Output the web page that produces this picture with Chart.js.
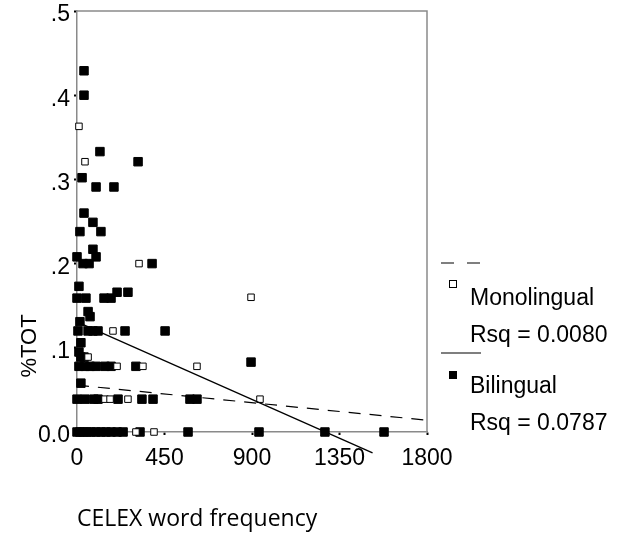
<!DOCTYPE html>
<html lang="en">
<head>
<meta charset="UTF-8">
<title>%TOT vs CELEX word frequency</title>
<script src="https://cdn.jsdelivr.net/npm/chart.js"></script>
<style>
  html, body { margin: 0; padding: 0; background: #fff; }
  #wrap { position: relative; width: 621px; height: 533px; }
</style>
</head>
<body>
<div id="wrap">
  <canvas id="myChart" width="621" height="533"></canvas>
</div>
<script>
  // monolingual (open squares)
  const monoX = [10, 41, 319, 895, 185, 57, 206, 339, 617, 144, 170, 262, 941, 303, 396];
  const monoY = [0.363, 0.321, 0.200, 0.160, 0.120, 0.089, 0.078, 0.078, 0.078, 0.039, 0.039, 0.039, 0.039, 0, 0];

  // bilingual (filled squares)
  const biX = [36, 36, 118, 314, 26, 98, 190, 36, 82, 15, 123, 82, 0, 98, 31, 62, 386,
    10, 0, 46, 139, 175, 206, 262, 57, 67, 15, 5, 57, 82, 108, 247, 453,
    20, 10, 20, 36, 895,
    10, 41, 67, 98, 144, 175, 303,
    20,
    0, 41, 87, 108, 211, 334, 391, 581, 617,
    0, 15, 31, 51, 72, 98, 123, 149, 175, 206, 237, 324, 571, 936, 1275, 1579];
  const biY = [0.429, 0.400, 0.333, 0.321, 0.302, 0.291, 0.291, 0.260, 0.249, 0.238, 0.238, 0.217, 0.208, 0.208, 0.200, 0.200, 0.200,
    0.173, 0.159, 0.159, 0.159, 0.159, 0.166, 0.166, 0.143, 0.137, 0.131, 0.120, 0.120, 0.120, 0.120, 0.120, 0.120,
    0.106, 0.095, 0.089, 0.089, 0.083,
    0.078, 0.078, 0.078, 0.078, 0.078, 0.078, 0.078,
    0.058,
    0.039, 0.039, 0.039, 0.039, 0.039, 0.039, 0.039, 0.039, 0.039,
    0, 0, 0, 0, 0, 0, 0, 0, 0, 0, 0, 0, 0, 0, 0, 0];

  // fit lines (end points)
  const monoFitX = [0, 1800];
  const monoFitY = [0.0556, 0.0140];
  const biFitX = [0, 1520];
  const biFitY = [0.1309, -0.0249];

  const xTickLabels = ['0', '450', '900', '1350', '1800'];
  const yTickLabels = ['0.0', '.1', '.2', '.3', '.4', '.5'];
  const legendLines = ['Monolingual', 'Rsq = 0.0080', 'Bilingual', 'Rsq = 0.0787'];

  function pts(xs, ys) {
    return xs.map(function (x, i) { return { x: x, y: ys[i] }; });
  }

  // frame, y title and legend
  const extras = {
    id: 'extras',
    beforeDatasetsDraw(chart) {
      const a = chart.chartArea;
      const ctx = chart.ctx;
      ctx.save();
      ctx.strokeStyle = '#8a8a8a';
      ctx.lineWidth = 1.5;
      ctx.beginPath();
      ctx.moveTo(a.left, a.top);
      ctx.lineTo(a.right, a.top);
      ctx.lineTo(a.right, a.bottom);
      ctx.stroke();
      ctx.restore();
    },
    afterDraw(chart) {
      const a = chart.chartArea;
      const ctx = chart.ctx;
      ctx.save();
      // y title
      ctx.fillStyle = '#000';
      ctx.font = '22px "Liberation Sans", Arial, sans-serif';
      ctx.translate(30, 346);
      ctx.rotate(-Math.PI / 2);
      ctx.textAlign = 'center';
      ctx.textBaseline = 'middle';
      ctx.fillText('%TOT', 0, 0);
      ctx.restore();

      // legend
      const lx = a.right + 14;
      ctx.save();
      ctx.strokeStyle = '#000';
      ctx.lineWidth = 1.2;
      ctx.setLineDash([13, 13]);
      ctx.beginPath();
      ctx.moveTo(lx, 263);
      ctx.lineTo(lx + 40, 263);
      ctx.stroke();
      ctx.setLineDash([]);
      ctx.beginPath();
      ctx.moveTo(lx, 353);
      ctx.lineTo(lx + 40, 353);
      ctx.stroke();
      ctx.lineWidth = 1;
      ctx.strokeRect(lx + 8.5, 280.5, 7, 7);
      ctx.fillStyle = '#000';
      ctx.fillRect(lx + 8, 371, 8, 8);
      ctx.font = '23px "Liberation Sans", Arial, sans-serif';
      ctx.textAlign = 'left';
      ctx.textBaseline = 'alphabetic';
      ctx.fillText(legendLines[0], lx + 29, 305);
      ctx.fillText(legendLines[1], lx + 29, 342);
      ctx.fillText(legendLines[2], lx + 29, 393);
      ctx.fillText(legendLines[3], lx + 29, 430);
      ctx.restore();
    }
  };

  const tickFont = { family: '"Liberation Sans", Arial, sans-serif', size: 23 };

  const config = {
    type: 'scatter',
    data: {
      datasets: [
        {
          label: 'Bilingual',
          data: pts(biX, biY),
          pointStyle: 'rect',
          pointRadius: 6,
          backgroundColor: '#000',
          borderColor: '#000',
          borderWidth: 1,
          clip: false,
          order: 3
        },
        {
          label: 'Monolingual',
          data: pts(monoX, monoY),
          pointStyle: 'rect',
          pointRadius: 4.6,
          backgroundColor: '#fff',
          borderColor: '#000',
          borderWidth: 1,
          clip: false,
          order: 2
        },
        {
          label: 'Monolingual fit',
          data: pts(monoFitX, monoFitY),
          showLine: true,
          pointRadius: 0,
          borderColor: '#000',
          borderWidth: 1.2,
          borderDash: [12, 9],
          clip: false,
          order: 1
        },
        {
          label: 'Bilingual fit',
          data: pts(biFitX, biFitY),
          showLine: true,
          pointRadius: 0,
          borderColor: '#000',
          borderWidth: 1.3,
          clip: false,
          order: 0
        }
      ]
    },
    options: {
      responsive: false,
      animation: false,
      layout: { padding: { left: 0, top: 11, right: 194, bottom: 0 } },
      plugins: {
        legend: { display: false },
        tooltip: { enabled: false }
      },
      scales: {
        x: {
          type: 'linear',
          min: 0,
          max: 1800,
          afterFit: function (scale) {
            scale.height = 101;
            scale.paddingLeft = 0;
            scale.paddingRight = 0;
          },
          ticks: {
            stepSize: 450,
            color: '#000',
            font: tickFont,
            padding: 10,
            maxRotation: 0,
            callback: function (v, i) { return xTickLabels[i]; }
          },
          grid: { drawOnChartArea: false, tickLength: 3, tickWidth: 2, tickColor: '#000' },
          border: { color: '#8a8a8a', width: 1.5 },
          title: {
            display: true,
            text: 'CELEX word frequency',
            align: 'start',
            color: '#000',
            font: { family: '"Open Sans", "Noto Sans", sans-serif', size: 23 },
            padding: { top: 0, bottom: 0 }
          }
        },
        y: {
          type: 'linear',
          min: 0,
          max: 0.5,
          afterFit: function (scale) {
            scale.width = 77;
            scale.paddingTop = 0;
            scale.paddingBottom = 0;
          },
          ticks: {
            stepSize: 0.1,
            color: '#000',
            font: tickFont,
            padding: 4,
            labelOffset: 4,
            callback: function (v, i) { return yTickLabels[i]; }
          },
          grid: { drawOnChartArea: false, tickLength: 3, tickWidth: 2, tickColor: '#000' },
          border: { color: '#8a8a8a', width: 1.5 }
        }
      }
    },
    plugins: [extras]
  };

  const myChart = new Chart(document.getElementById('myChart'), config);
</script>
</body>
</html>
